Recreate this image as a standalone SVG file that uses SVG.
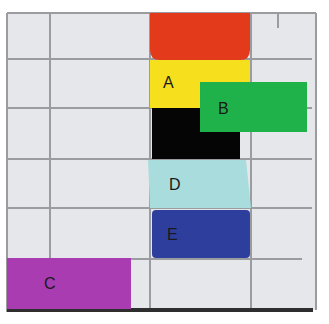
<svg xmlns="http://www.w3.org/2000/svg" width="329" height="324" viewBox="0 0 329 324">
<style>
.grid{stroke:#9a9ca0;stroke-width:2;fill:none}
.lbl{font-family:"Liberation Sans",Arial,sans-serif;font-size:16px;fill:#1a1a1a}
</style>
<rect width="329" height="324" fill="#ffffff"/>
<rect x="7" y="13" width="309" height="297" fill="#e6e7ea"/>
<g id="grid">
<line class="grid" x1="7" y1="13" x2="316" y2="13" stroke="#b4b6b9"/>
<line class="grid" x1="316" y1="13" x2="316" y2="310" stroke="#d0d2d5" stroke-width="1"/>
<line class="grid" x1="7" y1="13" x2="7" y2="312"/>
<line class="grid" x1="50" y1="13" x2="50" y2="258"/>
<line class="grid" x1="150" y1="13" x2="150" y2="310"/>
<line class="grid" x1="251" y1="13" x2="251" y2="310"/>
<line class="grid" x1="278" y1="13" x2="278" y2="28" stroke-width="1"/>
<line class="grid" x1="7" y1="59" x2="312" y2="59"/>
<line class="grid" x1="7" y1="108" x2="312" y2="108"/>
<line class="grid" x1="7" y1="159" x2="312" y2="159"/>
<line class="grid" x1="7" y1="208" x2="312" y2="208"/>
<line class="grid" x1="7" y1="259" x2="302" y2="259"/>
<line x1="7" y1="310" x2="313" y2="310" stroke="#2e2e2e" stroke-width="4"/>
</g>
<g id="red"><path d="M150 13 H250 V50 Q250 60 240 60 H160 Q150 60 150 50 Z" fill="#e43a1c"/></g>
<g id="A"><rect x="150" y="60" width="100" height="48" fill="#f6e01e"/><text class="lbl" x="163" y="88">A</text></g>
<g id="black"><rect x="152" y="108" width="88" height="51" fill="#050505"/></g>
<g id="B"><rect x="200" y="82" width="107" height="50" fill="#20b24a"/><text class="lbl" x="218" y="114">B</text></g>
<g id="D"><path d="M148 160 H246 L251 208 H150 Z" fill="#a9dcdc"/><text class="lbl" x="169" y="190">D</text></g>
<g id="E"><rect x="152" y="210" width="98" height="48" rx="4" fill="#2e3e9c"/><text class="lbl" x="167" y="240">E</text></g>
<g id="C"><rect x="7" y="258" width="124" height="51" fill="#a83cb0"/><text class="lbl" x="44" y="289">C</text></g>
</svg>
